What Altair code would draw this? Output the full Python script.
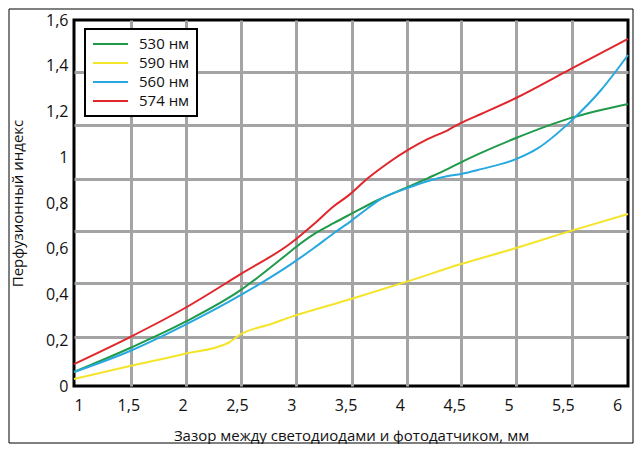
import altair as alt
import pandas as pd

series_names = ["530 нм", "590 нм", "560 нм", "574 нм"]
series_colors = ["#1f9a4b", "#f5e52a", "#27a8e0", "#e1262c"]

x_530 = [1.0, 1.516, 2.022, 2.537, 2.906, 3.044, 3.209, 3.394, 3.550, 3.799, 4.075, 4.259, 4.443, 4.563, 4.747, 5.069, 5.575, 6.1]
y_530 = [0.061, 0.166, 0.280, 0.420, 0.555, 0.608, 0.664, 0.713, 0.752, 0.813, 0.870, 0.909, 0.949, 0.978, 1.019, 1.084, 1.172, 1.233]

x_590 = [1.0, 1.516, 2.013, 2.418, 2.537, 2.814, 2.998, 3.550, 4.056, 4.563, 5.069, 5.575, 6.1]
y_590 = [0.031, 0.087, 0.140, 0.188, 0.227, 0.271, 0.302, 0.380, 0.455, 0.533, 0.603, 0.678, 0.752]

x_560 = [1.0, 1.516, 2.022, 2.537, 2.998, 3.209, 3.394, 3.550, 3.707, 3.826, 4.075, 4.259, 4.443, 4.563, 4.747, 5.069, 5.272, 5.575, 5.852, 6.1]
y_560 = [0.061, 0.153, 0.267, 0.398, 0.533, 0.603, 0.669, 0.721, 0.778, 0.818, 0.866, 0.896, 0.918, 0.927, 0.948, 0.992, 1.040, 1.158, 1.294, 1.447]

x_574 = [1.0, 1.516, 2.022, 2.537, 2.998, 3.209, 3.394, 3.522, 3.707, 3.891, 4.075, 4.259, 4.443, 4.563, 4.747, 5.069, 5.575, 6.1]
y_574 = [0.096, 0.214, 0.341, 0.490, 0.625, 0.708, 0.787, 0.831, 0.909, 0.975, 1.032, 1.080, 1.119, 1.150, 1.189, 1.259, 1.386, 1.517]

x_ticks = [1, 1.5, 2, 2.5, 3, 3.5, 4, 4.5, 5, 5.5, 6]
y_ticks = [0, 0.2, 0.4, 0.6, 0.8, 1.0, 1.2, 1.4, 1.6]
# decorative grid of the original figure (not aligned with the tick labels)
grid_x = [1.525, 2.031, 2.537, 3.044, 3.559, 4.066, 4.563, 5.069, 5.585]
grid_y = [0.215, 0.45, 0.678, 0.905, 1.141, 1.373]

rows = []
for name, xs, ys in [("530 нм", x_530, y_530), ("590 нм", x_590, y_590),
                     ("560 нм", x_560, y_560), ("574 нм", x_574, y_574)]:
    for i, (a, b) in enumerate(zip(xs, ys)):
        rows.append({"x": a, "y": b, "series": name, "i": i})
df = pd.DataFrame(rows)

FONT = "Open Sans"
xscale = alt.Scale(domain=[1, 6.1], nice=False, zero=False)
yscale = alt.Scale(domain=[0, 1.6], nice=False)
lab = "replace(toString(datum.value), '.', ',')"

grid = alt.Chart(df).mark_line(opacity=0).encode(
    x=alt.X("x:Q", scale=xscale, axis=alt.Axis(
        orient="top", values=grid_x, grid=True, gridColor="#a4a4a4", gridWidth=3,
        labels=False, ticks=False, domain=False, title="")),
    y=alt.Y("y:Q", scale=yscale, axis=alt.Axis(
        orient="right", values=grid_y, grid=True, gridColor="#a4a4a4", gridWidth=3,
        labels=False, ticks=False, domain=False, title="")),
)

lines = alt.Chart(df).mark_line(strokeWidth=2, interpolate="monotone").encode(
    x=alt.X("x:Q", scale=xscale, axis=alt.Axis(
        values=x_ticks, grid=False, ticks=False, domain=False, labelExpr=lab,
        labelFontSize=16, labelPadding=11, labelColor="#111", labelFont=FONT,
        title="Зазор между светодиодами и фотодатчиком, мм", titleFont=FONT,
        titleFontSize=15, titleFontWeight="normal", titleColor="#111", titlePadding=15)),
    y=alt.Y("y:Q", scale=yscale, axis=alt.Axis(
        values=y_ticks, grid=False, ticks=False, domain=False, labelExpr=lab,
        labelFontSize=16, labelPadding=6, labelColor="#111", labelFont=FONT,
        title="Перфузионный индекс", titleFont=FONT, titleFontSize=15,
        titleFontWeight="normal", titleColor="#111", titlePadding=20)),
    color=alt.Color("series:N", scale=alt.Scale(domain=series_names, range=series_colors),
                    sort=series_names,
                    legend=alt.Legend(title=None, orient="none", legendX=11, legendY=9,
                                      symbolType="M-1,0L4,0", symbolSize=196,
                                      symbolStrokeWidth=2, labelOffset=31,
                                      labelFontSize=15, labelFont=FONT, labelColor="#111",
                                      rowPadding=3, padding=7, fillColor="white",
                                      strokeColor="black")),
    order="i:Q",
)

frame = alt.Chart(pd.DataFrame({"f": [0]})).mark_rect(
    fillOpacity=0, stroke="black", strokeWidth=1
).encode(x=alt.value(-65), x2=alt.value(559), y=alt.value(-11), y2=alt.value(423))

chart = alt.layer(grid, lines, frame).resolve_axis(
    x="independent", y="independent"
).properties(width=554, height=366, padding=0).configure_view(
    stroke="black", strokeWidth=3
).configure_legend(strokeWidth=2)

chart.save("out.html", embed_options={"renderer": "svg", "actions": False})
